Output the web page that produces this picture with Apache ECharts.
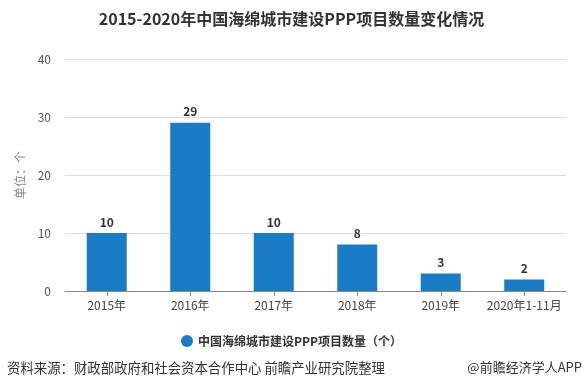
<!DOCTYPE html>
<html><head><meta charset="utf-8">
<script src="https://cdn.jsdelivr.net/npm/echarts@6/dist/echarts.min.js"></script>
<style>html,body{margin:0;padding:0;background:#fff}#c{width:583px;height:392px}</style>
</head><body><div id="c"></div>
<script>
const categories = ['2015年','2016年','2017年','2018年','2019年','2020年1-11月'];
const values = [10, 29, 10, 8, 3, 2];
const seriesName = '中国海绵城市建设PPP项目数量（个）';
const titleText = '2015-2020年中国海绵城市建设PPP项目数量变化情况';
const sourceText = '资料来源：财政部政府和社会资本合作中心 前瞻产业研究院整理';
const brandText = '@前瞻经济学人APP';
const font = '"Noto Sans CJK SC", "Microsoft YaHei", sans-serif';
const chart = echarts.init(document.getElementById('c'));
chart.setOption({
  animation: false,
  textStyle: {fontFamily: font},
  title: {text: titleText, left: 'center', top: 6, textStyle: {fontSize: 16, fontWeight: 'bold', color: '#333', fontFamily: font}},
  legend: {data: [seriesName], bottom: 40, left: 'center', icon: 'circle', itemWidth: 12, itemHeight: 12,
    textStyle: {fontSize: 12, fontWeight: 'bold', color: '#333'}},
  grid: {left: 65, right: 17, top: 59, bottom: 101, containLabel: false},
  xAxis: {type: 'category', data: categories,
    axisLine: {lineStyle: {color: '#888'}}, axisTick: {show: true, alignWithLabel: true, lineStyle: {color: '#888'}},
    axisLabel: {color: '#444', fontSize: 12, margin: 8, interval: 0}},
  yAxis: {type: 'value', min: 0, max: 40, interval: 10, name: '单位：个', nameLocation: 'middle', nameGap: 38,
    nameRotate: 90, nameTextStyle: {color: '#888', fontSize: 12},
    axisLine: {show: false}, axisTick: {show: false},
    axisLabel: {color: '#555', fontSize: 12, margin: 14},
    splitLine: {lineStyle: {color: '#ddd'}}},
  series: [{name: seriesName, type: 'bar', data: values, barWidth: 40,
    itemStyle: {color: '#1a7bc6'},
    label: {show: true, position: 'top', fontWeight: 'bold', color: '#333', fontSize: 12}}],
  graphic: [
    {type: 'text', left: 7, top: 361, style: {text: sourceText, fill: '#333', font: '13.4px ' + font}},
    {type: 'text', right: 1, top: 361, style: {text: brandText, fill: '#333', font: '13px ' + font}}
  ]
});
</script></body></html>
